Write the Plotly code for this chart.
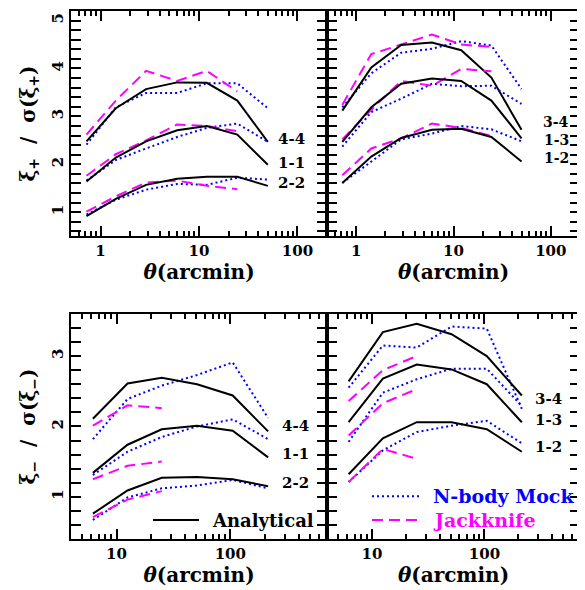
import plotly.graph_objects as go

# ---------------- data ----------------
theta_p = [0.72, 1.43, 2.9, 6.0, 12.0, 24.5, 50.0]
theta_m = [6.2, 12.5, 25.0, 51.0, 105.0, 215.0]

# xi_+ / sigma, top-left (auto bins)
p44_ana = [2.48, 3.17, 3.57, 3.71, 3.70, 3.33, 2.47]
p44_mock = [2.41, 3.19, 3.49, 3.49, 3.69, 3.69, 3.17]
p44_jk = [2.62, 3.33, 3.95, 3.74, 3.95, 3.52]
p11_ana = [1.64, 2.14, 2.48, 2.71, 2.80, 2.62, 1.99]
p11_mock = [1.66, 2.09, 2.33, 2.57, 2.76, 2.85, 2.47]
p11_jk = [1.76, 2.21, 2.50, 2.83, 2.80, 2.69]
p22_ana = [0.92, 1.28, 1.57, 1.70, 1.74, 1.74, 1.55]
p22_mock = [0.95, 1.26, 1.47, 1.59, 1.57, 1.72, 1.68]
p22_jk = [1.01, 1.33, 1.62, 1.66, 1.55, 1.48]

# xi_+ / sigma, top-right (cross bins)
p34_ana = [3.12, 4.02, 4.49, 4.54, 4.38, 3.81, 2.72]
p34_mock = [3.19, 3.90, 4.33, 4.41, 4.57, 4.48, 3.57]
p34_jk = [3.24, 4.30, 4.50, 4.71, 4.50, 4.45]
p13_ana = [2.47, 3.19, 3.68, 3.79, 3.74, 3.33, 2.54]
p13_mock = [2.37, 3.09, 3.37, 3.68, 3.63, 3.64, 3.26]
p13_jk = [2.52, 3.14, 3.74, 3.64, 3.99, 3.94]
p12_ana = [1.61, 2.16, 2.55, 2.72, 2.74, 2.57, 2.06]
p12_mock = [1.61, 2.06, 2.52, 2.64, 2.80, 2.73, 2.48]
p12_jk = [1.77, 2.33, 2.54, 2.85, 2.76, 2.59]

# xi_- / sigma, bottom-left
m44_ana = [2.11, 2.61, 2.69, 2.60, 2.44, 1.93]
m44_mock = [1.82, 2.39, 2.58, 2.73, 2.91, 2.12]
m44_jk = [2.01, 2.30, 2.26]
m11_ana = [1.34, 1.74, 1.96, 2.01, 1.94, 1.56]
m11_mock = [1.31, 1.64, 1.85, 2.00, 2.10, 1.82]
m11_jk = [1.25, 1.44, 1.50]
m22_ana = [0.76, 1.09, 1.27, 1.28, 1.25, 1.15]
m22_mock = [0.67, 0.99, 1.12, 1.16, 1.24, 1.12]
m22_jk = [0.71, 0.96, 1.08]

# xi_- / sigma, bottom-right
m34_ana = [2.64, 3.34, 3.46, 3.31, 3.00, 2.44]
m34_mock = [2.55, 3.15, 3.12, 3.42, 3.39, 2.25]
m34_jk = [2.36, 2.80, 3.00]
m13_ana = [2.06, 2.68, 2.88, 2.81, 2.60, 2.06]
m13_mock = [1.78, 2.48, 2.67, 2.82, 2.82, 2.29]
m13_jk = [1.87, 2.33, 2.53]
m12_ana = [1.32, 1.83, 2.06, 2.06, 1.96, 1.64]
m12_mock = [1.21, 1.66, 1.92, 2.01, 2.08, 1.76]
m12_jk = [1.21, 1.68, 1.54]

labels_tl = ["4-4", "1-1", "2-2"]
labels_tr = ["3-4", "1-3", "1-2"]

# tick values
xmajor_p = [1, 10, 100]
xmajor_m = [10, 100]
decades = [0.1, 1, 10, 100]
xminor = [d * k for d in decades for k in range(2, 10)]

# ---------------- styling ----------------
FONT = "DejaVu Serif"
BLACK = "#000000"
BLUE = "#0000ff"
MAG = "#ff00ff"
DOT = "2px,3px"
DASH = "11px,6px"

fig = go.Figure()


def add(x, y, kind, xa, ya):
    if kind == "ana":
        line = dict(color=BLACK, width=2)
    elif kind == "mock":
        line = dict(color=BLUE, width=2, dash=DOT)
    else:
        line = dict(color=MAG, width=2, dash=DASH)
    fig.add_trace(go.Scatter(x=x[:len(y)], y=y, mode="lines", line=line,
                             xaxis=xa, yaxis=ya, showlegend=False,
                             hoverinfo="skip"))


panels = [
    ("x", "y", theta_p, [(p44_ana, p44_mock, p44_jk), (p11_ana, p11_mock, p11_jk), (p22_ana, p22_mock, p22_jk)]),
    ("x2", "y2", theta_p, [(p34_ana, p34_mock, p34_jk), (p13_ana, p13_mock, p13_jk), (p12_ana, p12_mock, p12_jk)]),
    ("x3", "y3", theta_m, [(m44_ana, m44_mock, m44_jk), (m11_ana, m11_mock, m11_jk), (m22_ana, m22_mock, m22_jk)]),
    ("x4", "y4", theta_m, [(m34_ana, m34_mock, m34_jk), (m13_ana, m13_mock, m13_jk), (m12_ana, m12_mock, m12_jk)]),
]
for xa, ya, th, groups in panels:
    for ana, mock, jk in groups:
        add(th, mock, "mock", xa, ya)
        add(th, jk, "jk", xa, ya)
        add(th, ana, "ana", xa, ya)

# empty traces so the overlay (major-tick) x axes are drawn
for i, ya in zip(range(5, 9), ["y", "y2", "y3", "y4"]):
    fig.add_trace(go.Scatter(x=[], y=[], xaxis=f"x{i}", yaxis=ya, showlegend=False,
                             hoverinfo="skip"))

# geometry: the page body adds an 8px margin, so work in page pixels minus 8
OFF = 8
W, H = 585 - OFF, 590 - OFF
L, R = 71 - OFF, 580 - OFF
T, B = 9 - OFF, 539 - OFF
MID = 327 - OFF
TOPB, BOTT = 235 - OFF, 313 - OFF
PW, PH = R - L, B - T
xsplit = (MID - L) / PW
top_lo = (B - TOPB) / PH
bot_hi = (B - BOTT) / PH

tickfont = dict(family=FONT, size=15, color="black", weight="bold")
titlefont = dict(family=FONT, size=20, color="black", weight="bold")


def xaxis(dom, rng, anchor, majors):
    vals = sorted(majors + xminor)
    text = [str(v) if v in majors else "" for v in vals]
    return dict(type="log", domain=dom, range=rng, anchor=anchor,
                showline=True, linecolor="black", linewidth=2, mirror="allticks",
                ticks="inside", ticklen=5, tickwidth=1.5, tickcolor="black",
                tickmode="array", tickvals=vals, ticktext=text,
                tickfont=tickfont, showgrid=False, zeroline=False,
                title=dict(text="<i>θ</i>(arcmin)", font=titlefont, standoff=6))


def xmajor_axis(dom, rng, anchor, over, majors):
    return dict(type="log", domain=dom, range=rng, anchor=anchor, overlaying=over,
                showline=False, mirror="allticks",
                ticks="inside", ticklen=10, tickwidth=1.5, tickcolor="black",
                tickmode="array", tickvals=majors, showticklabels=False,
                showgrid=False, zeroline=False)


def yaxis(dom, rng, anchor, labels, title):
    return dict(domain=dom, range=rng, anchor=anchor,
                showline=True, linecolor="black", linewidth=2, mirror="allticks",
                ticks="inside", ticklen=10, tickwidth=1.5, tickcolor="black",
                dtick=1, tick0=0, showticklabels=labels, tickangle=-90,
                tickfont=tickfont, showgrid=False, zeroline=False,
                minor=dict(ticks="inside", ticklen=5, tickwidth=1.5, tickcolor="black",
                           dtick=0.2, showgrid=False),
                title=dict(text=title, font=titlefont, standoff=8))


fig.update_layout(
    width=W, height=H,
    margin=dict(l=L, r=W - R, t=T, b=H - B),
    plot_bgcolor="white", paper_bgcolor="white",
    xaxis=xaxis([0, xsplit], [-0.3, 2.3], "y", xmajor_p),
    xaxis2=xaxis([xsplit, 1], [-0.3, 2.3], "y2", xmajor_p),
    xaxis3=xaxis([0, xsplit], [0.6, 2.85], "y3", xmajor_m),
    xaxis4=xaxis([xsplit, 1], [0.6, 2.85], "y4", xmajor_m),
    xaxis5=xmajor_axis([0, xsplit], [-0.3, 2.3], "y", "x", xmajor_p),
    xaxis6=xmajor_axis([xsplit, 1], [-0.3, 2.3], "y2", "x2", xmajor_p),
    xaxis7=xmajor_axis([0, xsplit], [0.6, 2.85], "y3", "x3", xmajor_m),
    xaxis8=xmajor_axis([xsplit, 1], [0.6, 2.85], "y4", "x4", xmajor_m),
    yaxis=yaxis([top_lo, 1], [0.5, 5.2], "x", True,
                "ξ<sub>+</sub>  /  σ(ξ<sub>+</sub>)"),
    yaxis2=yaxis([top_lo, 1], [0.5, 5.2], "x2", False, ""),
    yaxis3=yaxis([0, bot_hi], [0.4, 3.6], "x3", True,
                 "ξ<sub>−</sub>  /  σ(ξ<sub>−</sub>)"),
    yaxis4=yaxis([0, bot_hi], [0.4, 3.6], "x4", False, ""),
)

# curve labels (page-pixel positions converted to axis-domain fractions)
BOX_TL = (71, 327, 9, 235)
BOX_TR = (327, 580, 9, 235)
BOX_BL = (71, 327, 313, 539)
BOX_BR = (327, 580, 313, 539)


def px_domain(px, py, x0, x1, y0, y1):
    return (px - x0) / (x1 - x0), (y1 - py) / (y1 - y0)


label_sets = [
    ("x", "y", labels_tl, [(291, 137), (291, 162), (291, 182)], BOX_TL, 15),
    ("x2", "y2", labels_tr, [(556, 120), (556, 138), (556, 157)], BOX_TR, 14),
    ("x3", "y3", labels_tl, [(295, 426), (295, 454), (295, 483)], BOX_BL, 15),
    ("x4", "y4", labels_tr, [(548, 398), (548, 420), (548, 447)], BOX_BR, 15),
]
for xa, ya, labs, pos, box, fs in label_sets:
    for lab, (px, py) in zip(labs, pos):
        fx, fy = px_domain(px, py, *box)
        fig.add_annotation(text=lab, x=fx, y=fy, xref=f"{xa} domain", yref=f"{ya} domain",
                           showarrow=False, xanchor="center", yanchor="middle",
                           font=dict(family=FONT, size=fs, color="black", weight="bold"))

# legend sample lines and texts
x0, y0 = px_domain(153, 520, *BOX_BL)
x1, _ = px_domain(199, 520, *BOX_BL)
fig.add_shape(type="line", xref="x3 domain", yref="y3 domain", x0=x0, x1=x1, y0=y0, y1=y0,
              line=dict(color=BLACK, width=2))
tx, _ = px_domain(210, 520, *BOX_BL)
fig.add_annotation(text="Analytical", x=tx, y=y0, xref="x3 domain", yref="y3 domain",
                   showarrow=False, xanchor="left", yanchor="middle",
                   font=dict(family=FONT, size=18, weight="bold", color="black"))

x0, y0 = px_domain(372, 496, *BOX_BR)
x1, _ = px_domain(421, 496, *BOX_BR)
fig.add_shape(type="line", xref="x4 domain", yref="y4 domain", x0=x0, x1=x1, y0=y0, y1=y0,
              line=dict(color=BLUE, width=2, dash=DOT))
tx, _ = px_domain(431, 496, *BOX_BR)
fig.add_annotation(text="N-body Mock", x=tx, y=y0, xref="x4 domain", yref="y4 domain",
                   showarrow=False, xanchor="left", yanchor="middle",
                   font=dict(family=FONT, size=19, weight="bold", color=BLUE))
x0, y0 = px_domain(372, 520, *BOX_BR)
x1, _ = px_domain(421, 520, *BOX_BR)
fig.add_shape(type="line", xref="x4 domain", yref="y4 domain", x0=x0, x1=x1, y0=y0, y1=y0,
              line=dict(color=MAG, width=2, dash=DASH))
fig.add_annotation(text="Jackknife", x=tx, y=y0, xref="x4 domain", yref="y4 domain",
                   showarrow=False, xanchor="left", yanchor="middle",
                   font=dict(family=FONT, size=19, weight="bold", color=MAG))

fig.write_html("out.html")
